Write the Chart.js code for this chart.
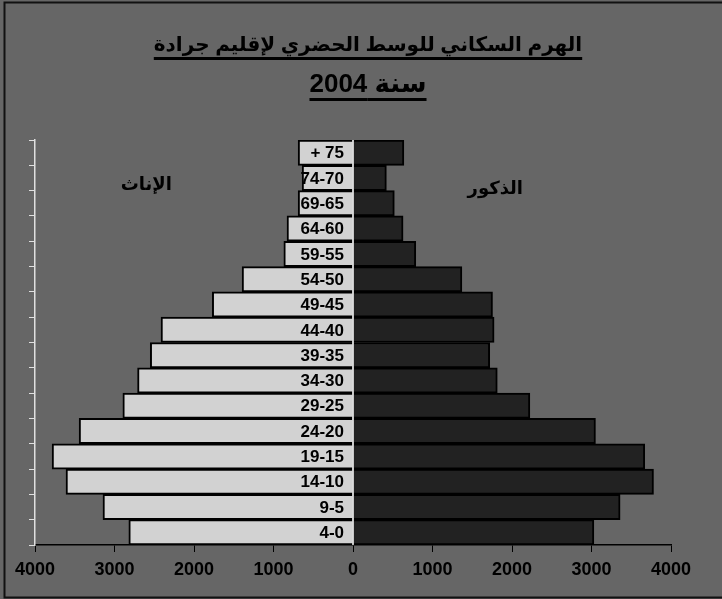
<!DOCTYPE html>
<html>
<head>
<meta charset="utf-8">
<script src="https://cdn.jsdelivr.net/npm/chart.js@4.4.1/dist/chart.umd.min.js"></script>
<style>
  html, body { margin: 0; padding: 0; background: #666666; }
  #wrap { position: relative; width: 722px; height: 599px; }
  #title {
    position: absolute; left: 0; top: 27px; width: 736px; text-align: center;
    direction: rtl; font-family: "Liberation Sans", Arial, "DejaVu Sans", sans-serif;
    font-weight: bold; color: #000;
  }
  #title span {
    display: inline-block; text-decoration: underline; text-decoration-thickness: 3px;
    text-underline-offset: 6px; text-decoration-skip-ink: none;
  }
  #t1 { font-size: 20px; line-height: 34px; }
  #t2 { font-size: 26px; line-height: 40px; margin-top: 2px; }
</style>
</head>
<body>
<div id="wrap">
  <canvas id="pyramide" width="722" height="599" dir="ltr"></canvas>
  <div id="title">
    <div id="t1"><span>الهرم السكاني للوسط الحضري لإقليم جرادة</span></div>
    <div id="t2"><span>سنة 2004</span></div>
  </div>
</div>
<script>
// tranches d'âge, du haut vers le bas
const ages = ['+ 75', '74-70', '69-65', '64-60', '59-55', '54-50', '49-45', '44-40',
              '39-35', '34-30', '29-25', '24-20', '19-15', '14-10', '9-5', '4-0'];
const femmes = [690, 640, 690, 830, 870, 1395, 1770, 2415, 2550, 2710, 2895, 3445, 3785, 3610, 3145, 2820];
const hommes = [640, 420, 520, 630, 790, 1370, 1755, 1775, 1720, 1815, 2225, 3050, 3670, 3780, 3360, 3030];
const xTicks = [-4000, -3000, -2000, -1000, 0, 1000, 2000, 3000, 4000];

// fond + cadre
const cadre = {
    id: 'cadre',
    beforeDraw(chart) {
        const c = chart.ctx;
        c.save();
        c.fillStyle = '#666666';
        c.fillRect(0, 0, chart.width, chart.height);
        c.strokeStyle = '#111';
        c.lineWidth = 2;
        c.beginPath();
        c.moveTo(730, 2.5);
        c.lineTo(4.5, 2.5);
        c.lineTo(4.5, 597.5);
        c.lineTo(730, 597.5);
        c.stroke();
        c.restore();
    }
};

// écrit un texte caractère par caractère, aligné à droite sur xd (ordre gauche -> droite garanti)
function texteDroite(c, s, xd, yc) {
    let xc = xd - c.measureText(s).width;
    for (const ch of s) {
        c.fillText(ch, xc, yc);
        xc += c.measureText(ch).width;
    }
}

// étiquettes des tranches + titres des sexes
const etiquettes = {
    id: 'etiquettes',
    afterDatasetsDraw(chart) {
        const c = chart.ctx;
        const x = chart.scales.x, y = chart.scales.y;
        const x0 = x.getPixelForValue(0);
        c.save();
        // ligne blanche au zéro
        c.strokeStyle = '#f2f2f2';
        c.lineWidth = 1.5;
        c.beginPath();
        c.moveTo(x0, y.top);
        c.lineTo(x0, y.bottom);
        c.stroke();

        c.fillStyle = '#000';
        c.direction = 'ltr';
        c.font = 'bold 17px "Liberation Sans", Arial, sans-serif';
        c.textAlign = 'left';
        c.textBaseline = 'middle';
        ages.forEach((a, i) => texteDroite(c, a, x0 - 9, y.getPixelForValue(i) + 1));

        c.font = 'bold 18px "Liberation Sans", Arial, "DejaVu Sans", sans-serif';
        c.textAlign = 'center';
        c.direction = 'rtl';
        c.fillText('الإناث', x.getPixelForValue(-2600), y.getPixelForValue(1) + 7);
        c.fillText('الذكور', x.getPixelForValue(1790), y.getPixelForValue(1) + 11);
        c.restore();
    }
};

const ctx = document.getElementById('pyramide').getContext('2d');
new Chart(ctx, {
    type: 'bar',
    data: {
        labels: ages,
        datasets: [{
            label: 'الإناث',
            data: femmes.map(v => -v),
            backgroundColor: '#d2d2d2',
            borderColor: '#000',
            borderWidth: 2,
            borderSkipped: 'start',
            barPercentage: 1,
            categoryPercentage: 1
        }, {
            label: 'الذكور',
            data: hommes,
            backgroundColor: '#222222',
            borderColor: '#000',
            borderWidth: 2,
            borderSkipped: 'start',
            barPercentage: 1,
            categoryPercentage: 1
        }]
    },
    options: {
        indexAxis: 'y',
        responsive: false,
        animation: false,
        layout: { padding: { top: 140, left: 27, right: 51, bottom: 0 } },
        plugins: {
            legend: { display: false },
            title: { display: false },
            tooltip: { enabled: false }
        },
        scales: {
            x: {
                stacked: true,
                min: -4000,
                max: 4000,
                afterBuildTicks: s => { s.ticks = xTicks.map(v => ({ value: v })); },
                afterFit: s => { s.height = 54; },
                grid: { drawOnChartArea: false, tickColor: '#000', tickLength: 7, lineWidth: 1 },
                border: { color: '#000', width: 1.5 },
                ticks: {
                    padding: 7,
                    color: '#000',
                    font: { family: '"Liberation Sans", Arial, sans-serif', size: 18, weight: 'bold' },
                    callback: v => Math.abs(v)
                }
            },
            y: {
                stacked: true,
                afterFit: s => { s.width = 8; },
                grid: { drawOnChartArea: false, tickColor: '#e0e0e0', tickLength: 6, offset: true },
                border: { color: '#e0e0e0', width: 1.5 },
                ticks: { display: false }
            }
        }
    },
    plugins: [cadre, etiquettes]
});
</script>
</body>
</html>
